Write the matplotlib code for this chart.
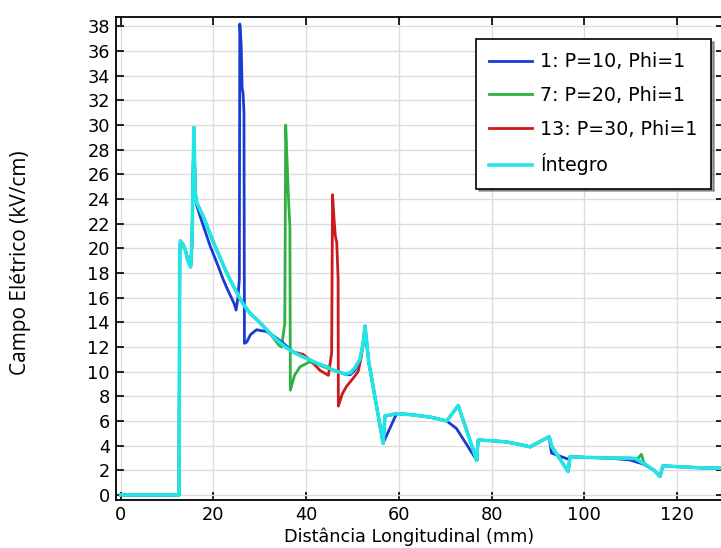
import matplotlib
matplotlib.use("Agg")
import matplotlib.pyplot as plt

# ---------------- data ----------------
x_int = [0, 12.6, 12.75, 12.9, 13.5, 14.1, 14.5, 15.1, 15.4, 15.8, 15.95, 16.1, 16.4,
         17.8, 20.0, 21.5, 22.9, 24.5, 26.4, 28.0, 30.0, 32.0, 33.6, 35.5, 37.2, 39.0,
         40.8, 42.5, 44.4, 46.0, 47.3, 48.4, 49.5, 50.5, 51.6, 52.3, 52.7, 53.5, 55.0,
         56.6, 56.8, 57.0, 59.5, 63.0, 67.0, 70.3, 72.8, 76.8, 76.9, 77.1, 80.0, 83.2,
         86.0, 88.3, 92.4, 93.0, 96.5, 96.7, 96.9, 100.0, 105.0, 109.8, 111.0, 112.7,
         115.0, 116.3, 116.6, 116.9, 120.0, 125.0, 131.0]
y_int = [0, 0, 19.5, 20.6, 20.3, 19.7, 19.0, 18.5, 20.5, 29.8, 27.0, 24.5, 23.7,
         22.6, 20.5, 19.2, 18.0, 16.8, 15.5, 14.7, 14.0, 13.2, 12.6, 12.0, 11.6, 11.25,
         10.96, 10.65, 10.4, 10.1, 9.95, 9.8, 9.9, 10.3, 11.0, 12.3, 13.7, 10.8, 7.6,
         4.2, 5.3, 6.4, 6.6, 6.5, 6.3, 6.0, 7.25, 2.8, 3.6, 4.45, 4.4, 4.3,
         4.1, 3.9, 4.73, 3.9, 1.9, 2.5, 3.1, 3.05, 3.0, 2.98, 2.95, 2.57,
         2.0, 1.5, 1.9, 2.35, 2.3, 2.2, 2.15]

x_p10 = [0, 12.6, 12.75, 12.9, 13.5, 14.1, 14.5, 15.1, 15.4, 15.8, 15.95, 16.1, 16.4,
         17.5, 19.3, 21.0, 22.1, 22.9, 24.5, 24.9, 25.3, 25.6, 25.7, 26.0, 26.2, 26.4, 26.6,
         26.7, 27.2, 28.0, 29.3, 31.5, 33.0, 35.1, 37.2, 39.0, 40.8, 42.5, 44.4, 46.0,
         47.3, 48.4, 49.5, 50.5, 51.6, 52.3, 52.7, 53.5, 55.0, 56.6, 59.5, 63.0, 67.0,
         70.3, 72.4, 76.8, 76.9, 77.1, 80.0, 83.2, 86.0, 88.3, 92.4, 92.9, 96.5, 96.9,
         100.0, 105.0, 109.8, 111.0, 112.7, 115.0, 116.3, 116.6, 116.9, 120.0, 125.0, 131.0]
y_p10 = [0, 0, 19.5, 20.6, 20.3, 19.7, 19.0, 18.5, 20.5, 29.8, 27.0, 24.5, 23.5,
         22.2, 20.2, 18.6, 17.5, 16.8, 15.5, 15.0, 16.0, 17.5, 38.2, 36.5, 33.0, 32.6, 31.0,
         12.3, 12.4, 13.0, 13.4, 13.25, 12.9, 12.3, 11.6, 11.25, 10.96, 10.65, 10.4, 10.1,
         9.95, 9.8, 9.75, 10.1, 10.9, 12.2, 13.6, 10.8, 7.6, 4.2, 6.6, 6.5, 6.3,
         6.0, 5.4, 2.8, 3.6, 4.45, 4.4, 4.3, 4.1, 3.9, 4.73, 3.4, 2.9, 3.1,
         3.05, 3.0, 2.84, 2.7, 2.5, 2.0, 1.5, 1.9, 2.35, 2.3, 2.2, 2.15]

x_p20 = [0, 12.6, 12.75, 12.9, 13.5, 14.1, 14.5, 15.1, 15.4, 15.8, 15.95, 16.1, 16.4,
         17.8, 20.0, 21.5, 22.9, 24.5, 26.4, 28.0, 30.0, 32.0, 34.0, 34.7, 35.4, 35.6,
         35.9, 36.2, 36.5, 36.6, 37.5, 38.7, 40.8, 42.5, 43.7, 46.0, 47.3, 48.4, 49.5,
         50.5, 51.6, 52.3, 52.7, 53.5, 55.0, 56.6, 56.8, 57.0, 59.5, 63.0, 67.0, 70.3,
         72.8, 76.8, 76.9, 77.1, 80.0, 83.2, 86.0, 88.3, 92.4, 93.0, 96.5, 96.7, 96.9,
         100.0, 105.0, 109.8, 111.5, 112.3, 112.8, 115.0, 116.3, 116.6, 116.9, 120.0, 125.0, 131.0]
y_p20 = [0, 0, 19.5, 20.6, 20.3, 19.7, 19.0, 18.5, 20.5, 29.8, 27.0, 24.5, 23.7,
         22.6, 20.5, 19.2, 18.0, 16.8, 15.5, 14.7, 14.0, 13.2, 12.2, 12.0, 13.9, 30.0,
         27.0, 24.0, 21.8, 8.5, 9.7, 10.4, 10.8, 10.6, 10.4, 10.1, 9.95, 9.8, 9.9,
         10.3, 11.0, 12.3, 13.7, 10.8, 7.6, 4.2, 5.3, 6.4, 6.6, 6.5, 6.3, 6.0,
         7.25, 2.8, 3.6, 4.45, 4.4, 4.3, 4.1, 3.9, 4.73, 3.9, 1.9, 2.5, 3.1,
         3.05, 3.0, 2.98, 2.95, 3.3, 2.6, 2.0, 1.5, 1.9, 2.35, 2.3, 2.2, 2.15]

x_p30 = [0, 12.6, 12.75, 12.9, 13.5, 14.1, 14.5, 15.1, 15.4, 15.8, 15.95, 16.1, 16.4,
         17.8, 20.0, 21.5, 22.9, 24.5, 26.4, 28.0, 30.0, 32.0, 33.6, 35.5, 37.2, 39.4,
         41.5, 43.0, 44.8, 45.5, 45.7, 46.0, 46.3, 46.6, 46.9, 46.95, 47.8, 48.7, 50.0,
         51.2, 51.8, 52.3, 52.7, 53.5, 55.0, 56.6, 56.8, 57.0, 59.5, 63.0, 67.0, 70.3,
         72.8, 76.8, 76.9, 77.1, 80.0, 83.2, 86.0, 88.3, 92.4, 93.0, 96.5, 96.7, 96.9,
         100.0, 105.0, 109.8, 111.0, 112.7, 115.0, 116.3, 116.6, 116.9, 120.0, 125.0, 131.0]
y_p30 = [0, 0, 19.5, 20.6, 20.3, 19.7, 19.0, 18.5, 20.5, 29.8, 27.0, 24.5, 23.7,
         22.6, 20.5, 19.2, 18.0, 16.8, 15.5, 14.7, 14.0, 13.2, 12.6, 12.0, 11.6, 11.4,
         10.7, 10.1, 9.7, 11.5, 24.35, 22.5, 21.0, 20.5, 17.5, 7.2, 8.2, 8.8, 9.4,
         10.0, 11.0, 12.3, 13.7, 10.8, 7.6, 4.2, 5.3, 6.4, 6.6, 6.5, 6.3, 6.0,
         7.25, 2.8, 3.6, 4.45, 4.4, 4.3, 4.1, 3.9, 4.73, 3.9, 1.9, 2.5, 3.1,
         3.05, 3.0, 2.98, 2.95, 2.57, 2.0, 1.5, 1.9, 2.35, 2.3, 2.2, 2.15]

labels = ["1: P=10, Phi=1", "7: P=20, Phi=1", "13: P=30, Phi=1", "Íntegro"]
x_ticks = [0, 20, 40, 60, 80, 100, 120]
y_ticks = list(range(0, 39, 2))

# ---------------- figure ----------------
W, H = 721, 548
fig = plt.figure(figsize=(W / 100, H / 100), dpi=100)
ax_l, ax_r, ax_t, ax_b = 115.5, 724.0, 17.0, 500.0
ax = fig.add_axes([ax_l / W, 1 - ax_b / H, (ax_r - ax_l) / W, (ax_b - ax_t) / H])

ax.plot(x_p10, y_p10, color="#1a3ad6", lw=2.0, label=labels[0], zorder=3)
ax.plot(x_p20, y_p20, color="#2fb040", lw=2.0, label=labels[1], zorder=2)
ax.plot(x_p30, y_p30, color="#cc1a1a", lw=2.0, label=labels[2], zorder=2.5)
ax.plot(x_int, y_int, color="#22e6e6", lw=2.6, label=labels[3], zorder=4)

ax.set_xlim(-1.1, 130.1)
ax.set_ylim(-0.41, 38.77)
ax.set_xticks(x_ticks)
ax.set_yticks(y_ticks)
ax.tick_params(direction="in", top=True, right=True, length=6, width=1.2,
               labelsize=12.8, pad=4, colors="black")
ax.grid(True, color="#dcdcdc", lw=1.0)
ax.set_axisbelow(True)
for s in ax.spines.values():
    s.set_linewidth(1.3)

ax.set_xlabel("Distância Longitudinal (mm)", fontsize=12.7)
ax.xaxis.set_label_coords((409 - ax_l) / (ax_r - ax_l), -(528 - ax_b) / (ax_b - ax_t))
ax.set_ylabel("Campo Elétrico (kV/cm)", fontsize=15, family=["Open Sans", "DejaVu Sans"])
ax.yaxis.set_label_coords(-(ax_l - 31) / (ax_r - ax_l), (ax_b - 263) / (ax_b - ax_t))

leg = ax.legend(loc="upper left", bbox_to_anchor=(476 / W, 1 - 39 / H),
                bbox_transform=fig.transFigure, fontsize=13.7, frameon=True,
                fancybox=False, shadow=True, framealpha=1, edgecolor="black",
                borderaxespad=0, handlelength=2.26, handletextpad=0.42,
                borderpad=0.7, labelspacing=0.77)
leg.get_frame().set_linewidth(1.2)

fig.savefig("out.png", dpi=100)
